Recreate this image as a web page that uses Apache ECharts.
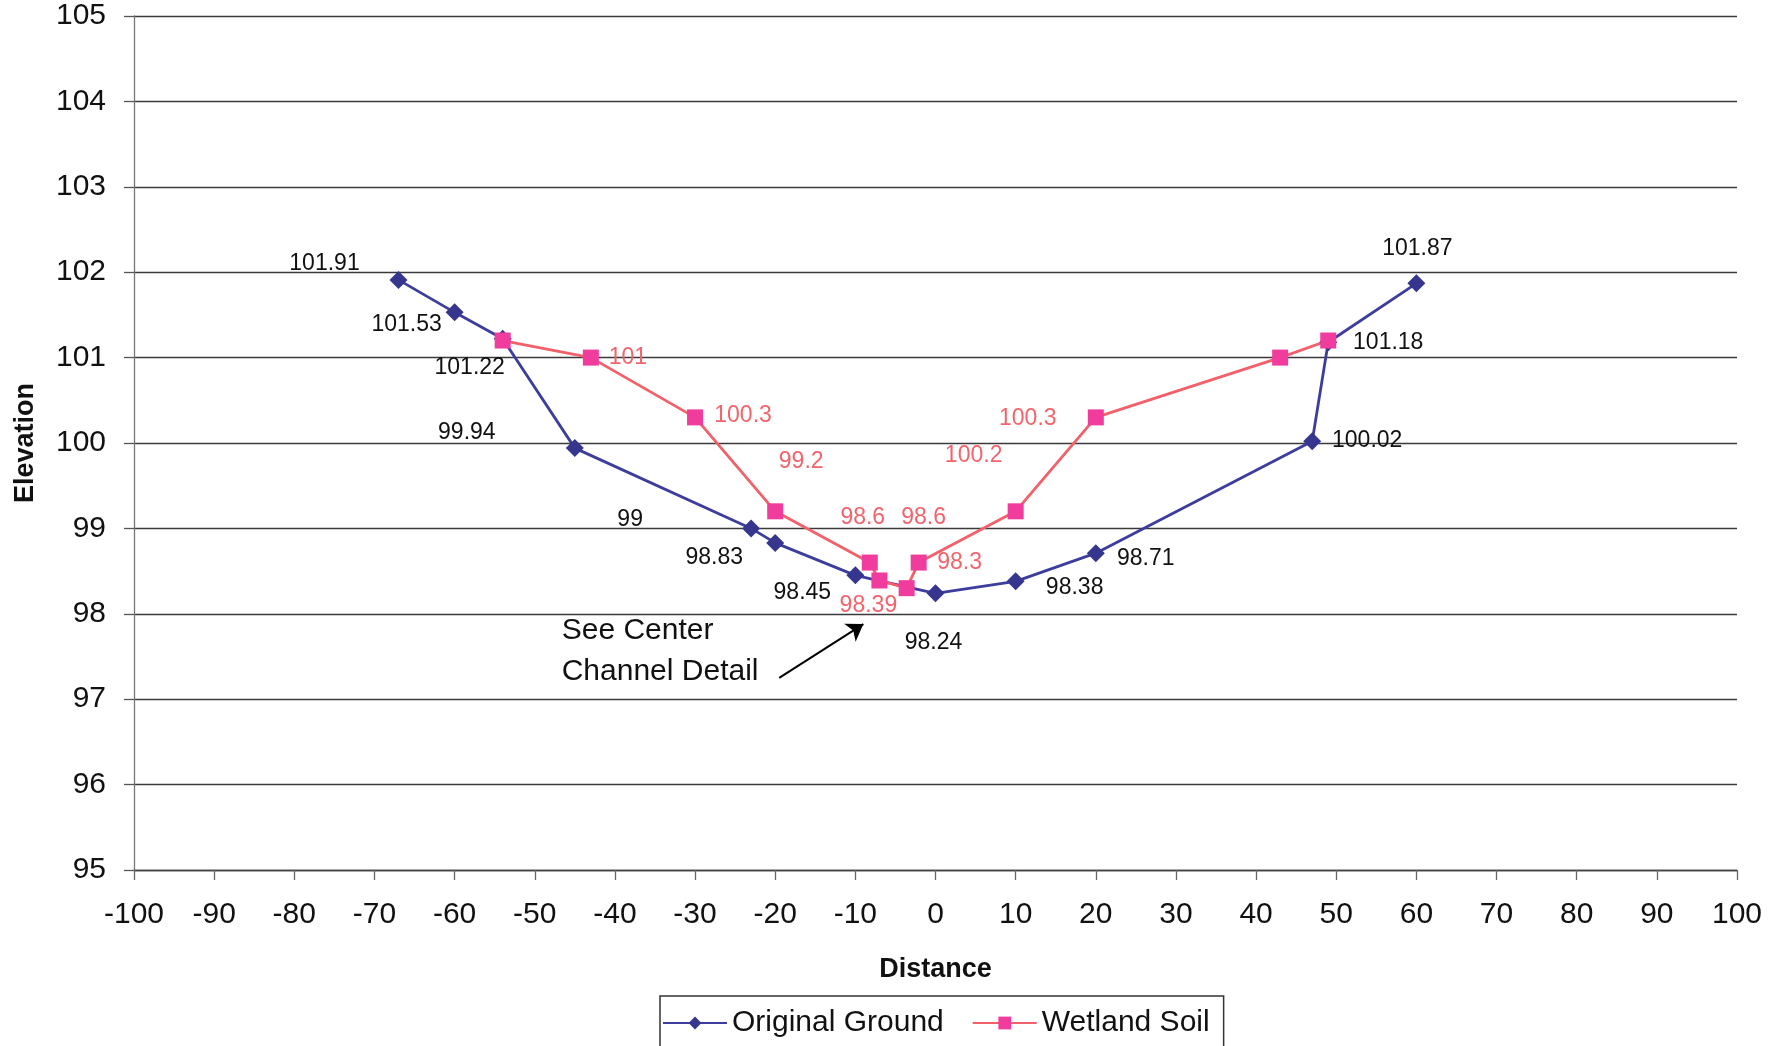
<!DOCTYPE html>
<html>
<head>
<meta charset="utf-8">
<script src="https://cdn.jsdelivr.net/npm/echarts@6/dist/echarts.min.js"></script>
<style>
  html, body { margin: 0; padding: 0; background: #fff; }
  #chart { width: 1775px; height: 1046px; }
</style>
</head>
<body>
<div id="chart"></div>
<script>
// Original Ground profile
const groundDistance = [-67, -60, -54, -45, -23, -20, -10, 0, 10, 20, 47, 49, 60];
const groundElevation = [101.91, 101.53, 101.22, 99.94, 99.0, 98.83, 98.45, 98.24, 98.38, 98.71, 100.02, 101.18, 101.87];
const groundLabels = ["101.91", "101.53", "101.22", "99.94", "99", "98.83", "98.45", "98.24", "98.38", "98.71", "100.02", "101.18", "101.87"];

// Wetland Soil profile
const wetlandDistance = [-54, -43, -30, -20, -8.2, -7, -3.6, -2.1, 10, 20, 43, 49];
const wetlandElevation = [101.2, 101.0, 100.3, 99.2, 98.6, 98.39, 98.3, 98.6, 99.2, 100.3, 101.0, 101.2];
const wetlandLabels = ["", "101", "100.3", "99.2", "98.6", "98.39", "98.3", "98.6", "100.2", "100.3", "", ""];

// where each data label sits relative to its marker (px)
const groundLabelOffsets = [[-74, -16], [-48, 12], [-33, 29], [-108, -15], [-121, -9], [-61, 15], [-53, 17],
  [-2, 49], [59, 6], [50, 5], [55, -1], [60, 0], [1, -35]];
const wetlandLabelOffsets = [[0, 0], [37, 0], [48, -2], [26, -50], [-7, -45], [-11, 25], [53, -26], [5, -45],
  [-42, -56], [-68, 1], [0, 0], [0, 0]];

const FONT = "Liberation Sans, Arial, sans-serif";

function buildData(xs, ys, labels, offsets, color) {
    return xs.map((x, i) => ({
        value: [x, ys[i]],
        label: {
            show: labels[i] !== "",
            formatter: labels[i],
            position: "inside",
            offset: offsets[i],
            color: color,
            fontSize: 23,
            fontFamily: FONT
        }
    }));
}

const chart = echarts.init(document.getElementById("chart"));

chart.setOption({
    animation: false,
    backgroundColor: "#ffffff",
    textStyle: { fontFamily: FONT },
    grid: { left: 134, right: 38, top: 16, bottom: 176 },
    legend: {
        left: 660,
        top: 996,
        padding: [12, 14, 10, 2],
        itemGap: 28,
        itemWidth: 64,
        itemHeight: 16,
        borderColor: "#333",
        borderWidth: 1.5,
        textStyle: { fontSize: 30, color: "#111", fontFamily: FONT },
        data: ["Original Ground", "Wetland Soil"]
    },
    xAxis: {
        type: "value",
        min: -100,
        max: 100,
        interval: 10,
        name: "Distance",
        nameLocation: "middle",
        nameGap: 86,
        nameTextStyle: { fontSize: 27, fontWeight: "bold", color: "#111", fontFamily: FONT },
        axisLine: { show: true, onZero: false, lineStyle: { color: "#444", width: 1.3 } },
        axisTick: { show: true, length: 10, lineStyle: { color: "#666", width: 1.3 } },
        axisLabel: { fontSize: 30, color: "#111", margin: 30, fontFamily: FONT },
        splitLine: { show: false }
    },
    yAxis: {
        type: "value",
        min: 95,
        max: 105,
        interval: 1,
        name: "Elevation",
        nameLocation: "middle",
        nameGap: 95,
        nameTextStyle: { fontSize: 27, fontWeight: "bold", color: "#111", fontFamily: FONT },
        axisLine: { show: true, onZero: false, lineStyle: { color: "#777", width: 1.3 } },
        axisTick: { show: true, length: 10, lineStyle: { color: "#555", width: 1.3 } },
        axisLabel: { fontSize: 30, color: "#111", margin: 28, fontFamily: FONT },
        splitLine: { show: true, lineStyle: { color: "#3a3a3a", width: 1.3 } }
    },
    series: [
        {
            name: "Original Ground",
            type: "line",
            symbol: "diamond",
            symbolSize: 18,
            lineStyle: { color: "#3d3d9e", width: 2.8 },
            itemStyle: { color: "#36368f" },
            data: buildData(groundDistance, groundElevation, groundLabels, groundLabelOffsets, "#111"),
            markLine: {
                silent: true,
                symbol: ["none", "arrow"],
                symbolSize: 16,
                lineStyle: { color: "#000", width: 2, type: "solid" },
                label: { show: false },
                data: [[{ coord: [-19.5, 97.25] }, { coord: [-9, 97.88] }]]
            },
            markPoint: {
                silent: true,
                symbol: "rect",
                symbolSize: 1,
                itemStyle: { color: "rgba(0,0,0,0)" },
                label: {
                    show: true,
                    position: "right",
                    distance: 0,
                    formatter: "See Center\nChannel Detail",
                    fontSize: 30,
                    lineHeight: 41,
                    color: "#111",
                    fontFamily: FONT
                },
                data: [{ coord: [-46.7, 97.56] }]
            }
        },
        {
            name: "Wetland Soil",
            type: "line",
            symbol: "rect",
            symbolSize: 16,
            lineStyle: { color: "#f2606a", width: 2.8 },
            itemStyle: { color: "#f03c9c" },
            data: buildData(wetlandDistance, wetlandElevation, wetlandLabels, wetlandLabelOffsets, "#f2646c")
        }
    ]
});
</script>
</body>
</html>
